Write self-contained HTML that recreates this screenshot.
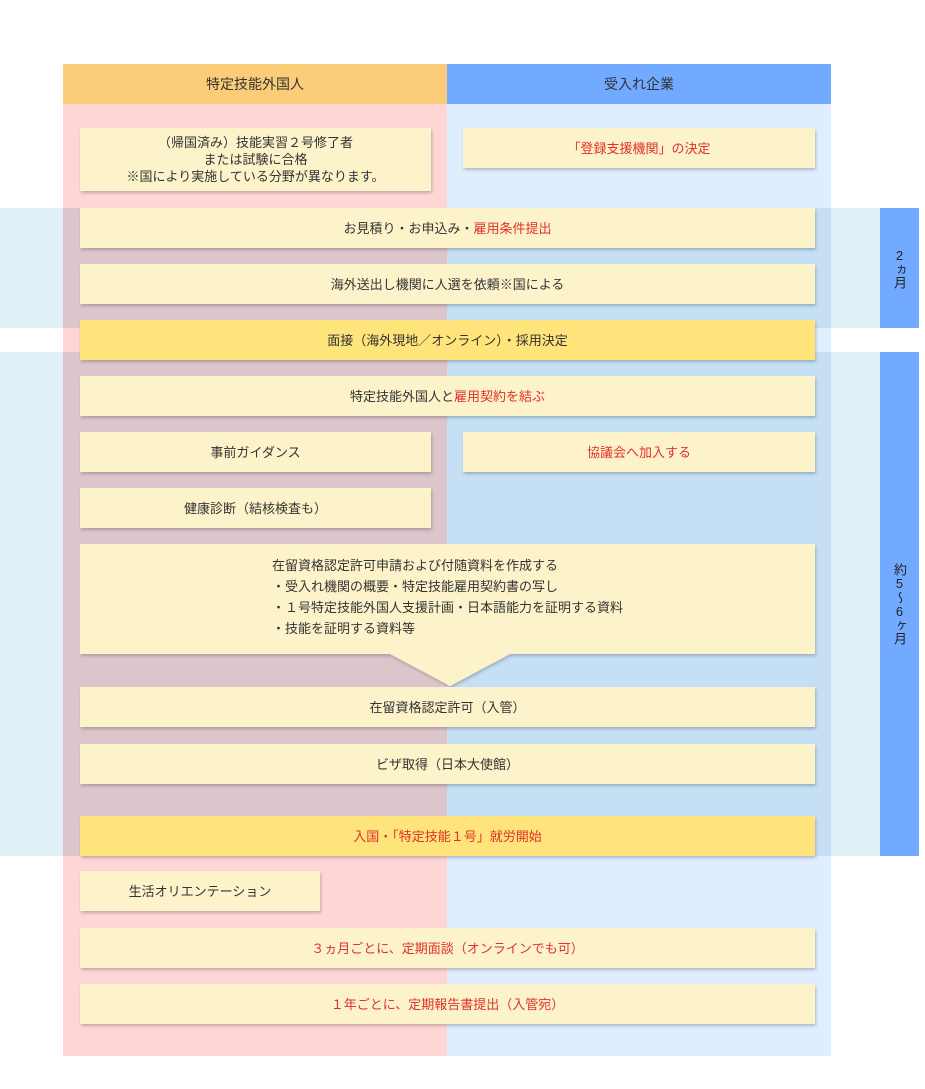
<!DOCTYPE html>
<html><head><meta charset="utf-8"><style>
body{margin:0;width:925px;height:1089px;position:relative;background:#fff;font-family:"Liberation Sans","Noto Sans CJK JP",sans-serif;font-size:13px;color:#333;overflow:hidden}
div{position:absolute;box-sizing:border-box}
.b{background:#fdf3cb;box-shadow:1px 2px 3px rgba(0,0,0,0.22);display:flex;align-items:center;justify-content:center;text-align:center;line-height:17px}
.y{background:#fee47a}
.r{color:#e0302c}
.bar{background:#72aaff;left:880px;width:39px;writing-mode:vertical-rl;text-orientation:upright;display:flex;align-items:center;justify-content:center;font-size:13px;color:#222}
</style></head><body>
<div style="left:63px;top:64px;width:384px;height:992px;background:#ffd6d6"></div>
<div style="left:447px;top:64px;width:384px;height:992px;background:#dfeeff"></div>
<div style="left:63px;top:64px;width:384px;height:40px;background:#fccd78;display:flex;align-items:center;justify-content:center;font-size:14px">特定技能外国人</div>
<div style="left:447px;top:64px;width:384px;height:40px;background:#72aaff;display:flex;align-items:center;justify-content:center;font-size:14px">受入れ企業</div>
<!-- bands -->
<div style="left:0;top:208px;width:880px;height:120px;background:#e1eff7"></div>
<div style="left:63px;top:208px;width:384px;height:120px;background:#dcc6cc"></div>
<div style="left:447px;top:208px;width:384px;height:120px;background:#c5e0f5"></div>
<div style="left:0;top:352px;width:880px;height:504px;background:#e1eff7"></div>
<div style="left:63px;top:352px;width:384px;height:504px;background:#dcc6cc"></div>
<div style="left:447px;top:352px;width:384px;height:504px;background:#c5e0f5"></div>
<div class="bar" style="top:208px;height:120px">2ヵ月</div>
<div class="bar" style="top:352px;height:504px">約5〜6ヶ月</div>

<div class="b" style="left:80px;top:128px;width:351px;height:63px">（帰国済み）技能実習２号修了者<br>または試験に合格<br>※国により実施している分野が異なります。</div>
<div class="b r" style="left:463px;top:128px;width:352px;height:40px">「登録支援機関」の決定</div>
<div class="b" style="left:80px;top:208px;width:735px;height:40px">お見積り・お申込み・<span class="r">雇用条件提出</span></div>
<div class="b" style="left:80px;top:264px;width:735px;height:40px">海外送出し機関に人選を依頼※国による</div>
<div class="b y" style="left:80px;top:320px;width:735px;height:40px">面接（海外現地／オンライン）・採用決定</div>
<div class="b" style="left:80px;top:376px;width:735px;height:40px">特定技能外国人と<span class="r">雇用契約を結ぶ</span></div>
<div class="b" style="left:80px;top:432px;width:351px;height:40px">事前ガイダンス</div>
<div class="b r" style="left:463px;top:432px;width:352px;height:40px">協議会へ加入する</div>
<div class="b" style="left:80px;top:488px;width:351px;height:40px">健康診断（結核検査も）</div>
<svg style="position:absolute;left:80px;top:544px" width="740" height="146"><defs><filter id="s"><feDropShadow dx="1" dy="2" stdDeviation="1.5" flood-opacity="0.22"/></filter></defs><polygon points="0,0 735,0 735,110 430,110 370,142 310,110 0,110" fill="#fdf3cb" filter="url(#s)"/></svg>
<div style="left:272px;top:555px;line-height:21px;font-size:13px">在留資格認定許可申請および付随資料を作成する<br>・受入れ機関の概要・特定技能雇用契約書の写し<br>・１号特定技能外国人支援計画・日本語能力を証明する資料<br>・技能を証明する資料等</div>
<div class="b" style="left:80px;top:687px;width:735px;height:40px">在留資格認定許可（入管）</div>
<div class="b" style="left:80px;top:744px;width:735px;height:40px">ビザ取得（日本大使館）</div>
<div class="b y r" style="left:80px;top:816px;width:735px;height:40px">入国・「特定技能１号」就労開始</div>
<div class="b" style="left:80px;top:871px;width:240px;height:40px">生活オリエンテーション</div>
<div class="b r" style="left:80px;top:928px;width:735px;height:40px">３ヵ月ごとに、定期面談（オンラインでも可）</div>
<div class="b r" style="left:80px;top:984px;width:735px;height:40px">１年ごとに、定期報告書提出（入管宛）</div>
</body></html>
